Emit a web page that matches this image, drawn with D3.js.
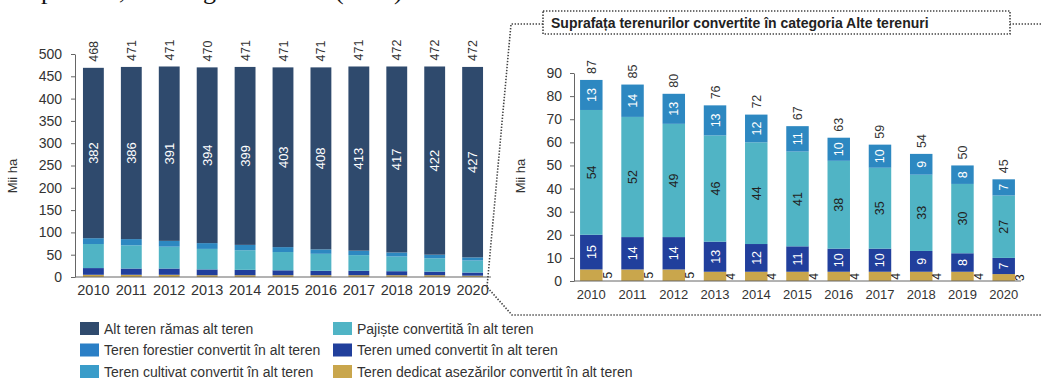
<!DOCTYPE html>
<html><head><meta charset="utf-8">
<script src="https://cdn.jsdelivr.net/npm/d3@7"></script>
<style>
body{margin:0;background:#fff;}
svg{display:block;font-family:"Liberation Sans",Arial,sans-serif;}
</style>
</head><body>
<svg id="c" width="1041" height="378"></svg>
<script>
// ---------- DATA ----------
const years = ["2010","2011","2012","2013","2014","2015","2016","2017","2018","2019","2020"];
const altTeren   = [382,386,391,394,399,403,408,413,417,422,427];
const totalLeft  = [468,471,471,470,471,471,471,471,472,472,472];
const forestier  = [13,14,13,13,12,11,10,10,9,8,7];
const pajiste    = [54,52,49,46,44,41,38,35,33,30,27];
const umed       = [15,14,14,13,12,11,10,10,9,8,7];
const asezari    = [5,5,5,4,4,4,4,4,4,4,3];
const totalRight = [87,85,80,76,72,67,63,59,54,50,45];
const leftTicks  = [0,50,100,150,200,250,300,350,400,450,500];
const rightTicks = [0,10,20,30,40,50,60,70,80,90];
const legendNames = [
  "Alt teren rămas alt teren",
  "Teren forestier convertit în alt teren",
  "Teren cultivat convertit în alt teren",
  "Pajiște convertită în alt teren",
  "Teren umed convertit în alt teren",
  "Teren dedicat așezărilor convertit în alt teren"
];
const leftTitle = "Mii ha";
const rightTitle = "Suprafața terenurilor convertite în categoria Alte terenuri";

// ---------- STYLE ----------
const COL = {
  alt:"#2f4a6d", forest:"#2d88c1", cult:"#3a9cc9", paj:"#50b4c5", umed:"#213f9c", asez:"#c9a64c"
};
const legendColors = [COL.alt, "#2a7fc6", COL.cult, COL.paj, COL.umed, COL.asez];

const svg = d3.select("#c");

// clipped serif caption remnants at very top (cut off in the reference too)
[["p",41],[",",119],["g",203],["(",335],[")",394]].forEach(([t,x])=>{
  svg.append("text").attr("x",x).attr("y",-1).attr("font-family","'Liberation Serif',serif")
    .attr("font-size",26).attr("fill","#111").text(t);
});

const rows = years.map((y,i)=>({year:y, asez:asezari[i], umed:umed[i], paj:pajiste[i], forest:forestier[i], alt:altTeren[i]}));
const keysLeft = ["asez","umed","paj","forest","alt"];
const keysRight = ["asez","umed","paj","forest"];

// ---------- LEFT CHART ----------
const xL = d3.scaleBand().domain(years).range([75,491]).paddingInner(0.45).paddingOuter(0.21);
const yL = d3.scaleLinear().domain([0,500]).range([277,54]);
const stL = d3.stack().keys(keysLeft)(rows);
const gL = svg.append("g");
stL.forEach(layer=>{
  gL.append("g").attr("fill",COL[layer.key]).selectAll("rect").data(layer).join("rect")
    .attr("x",d=>xL(d.data.year)).attr("width",xL.bandwidth())
    .attr("y",d=>yL(d[1])).attr("height",d=>yL(d[0])-yL(d[1]));
});
const altLayer = stL[4];
gL.selectAll("text.in").data(altLayer).join("text").attr("class","in")
  .attr("transform",d=>`translate(${xL(d.data.year)+xL.bandwidth()/2+4.5},${(yL(d[0])+yL(d[1]))/2}) rotate(-90)`)
  .attr("text-anchor","middle").attr("fill","#fff").attr("font-size",13).text((d,i)=>altTeren[i]);
gL.selectAll("text.tot").data(years).join("text").attr("class","tot")
  .attr("transform",(d,i)=>`translate(${xL(d)+xL.bandwidth()/2+4.5},${yL(altLayer[i][1])-6}) rotate(-90)`)
  .attr("text-anchor","start").attr("fill","#333").attr("font-size",12.5).text((d,i)=>totalLeft[i]);

const axL = svg.append("g").attr("transform","translate(75,0)")
  .call(d3.axisLeft(yL).tickValues(leftTicks).tickSize(4).tickSizeOuter(0).tickPadding(9));
const axLB = svg.append("g").attr("transform","translate(0,277)")
  .call(d3.axisBottom(xL).tickSize(0).tickPadding(8));
axLB.select(".domain").attr("d","M75,0H491");
[axL,axLB].forEach(a=>{a.selectAll("path,line").attr("stroke","#666");a.selectAll("text").attr("fill","#333").attr("font-family","'Liberation Sans',Arial,sans-serif");});
axL.selectAll("text").attr("font-size",14);
axLB.selectAll("text").attr("font-size",14.5);
svg.append("text").attr("transform","translate(17,176) rotate(-90)").attr("text-anchor","middle")
  .attr("font-size",13).attr("fill","#333").text(leftTitle);

// ---------- RIGHT CHART ----------
const xR = d3.scaleBand().domain(years).range([574,1021]).paddingInner(0.455).paddingOuter(0.147);
const yR = d3.scaleLinear().domain([0,90]).range([281,73]);
const stR = d3.stack().keys(keysRight)(rows);
const gR = svg.append("g");
stR.forEach(layer=>{
  gR.append("g").attr("fill",COL[layer.key]).selectAll("rect").data(layer).join("rect")
    .attr("x",d=>xR(d.data.year)).attr("width",xR.bandwidth())
    .attr("y",d=>yR(d[1])).attr("height",d=>yR(d[0])-yR(d[1]));
});
const labelCfg = {umed:["#fff",umed], paj:["#222",pajiste], forest:["#fff",forestier]};
stR.forEach(layer=>{
  if(!labelCfg[layer.key]) return;
  const [fill,vals] = labelCfg[layer.key];
  gR.append("g").selectAll("text").data(layer).join("text")
    .attr("transform",d=>`translate(${xR(d.data.year)+xR.bandwidth()/2+4.5},${(yR(d[0])+yR(d[1]))/2}) rotate(-90)`)
    .attr("text-anchor","middle").attr("fill",fill).attr("font-size",12.5).text((d,i)=>vals[i]);
});
gR.append("g").selectAll("text").data(stR[0]).join("text")
  .attr("transform",d=>`translate(${xR(d.data.year)+xR.bandwidth()+9},${(yR(d[0])+yR(d[1]))/2}) rotate(-90)`)
  .attr("text-anchor","middle").attr("fill","#222").attr("font-size",12).text((d,i)=>asezari[i]);
const topR = stR[3];
gR.append("g").selectAll("text").data(topR).join("text")
  .attr("transform",(d,i)=>`translate(${xR(d.data.year)+xR.bandwidth()/2+4.5},${yR(d[1])-6}) rotate(-90)`)
  .attr("text-anchor","start").attr("fill","#333").attr("font-size",12.5).text((d,i)=>totalRight[i]);

const axR = svg.append("g").attr("transform","translate(574,0)")
  .call(d3.axisLeft(yR).tickValues(rightTicks).tickSize(4).tickSizeOuter(0).tickPadding(8));
const axRB = svg.append("g").attr("transform","translate(0,281)")
  .call(d3.axisBottom(xR).tickSize(0).tickPadding(9));
axRB.select(".domain").attr("d","M574,0H1021");
[axR,axRB].forEach(a=>{a.selectAll("path,line").attr("stroke","#666");a.selectAll("text").attr("fill","#333").attr("font-family","'Liberation Sans',Arial,sans-serif");});
axR.selectAll("text").attr("font-size",14);
axRB.selectAll("text").attr("font-size",13);
svg.append("text").attr("transform","translate(525,176) rotate(-90)").attr("text-anchor","middle")
  .attr("font-size",13).attr("fill","#333").text(leftTitle);

// ---------- CALLOUT FRAME ----------
const dot = {stroke:"#444","stroke-width":1.6,"stroke-dasharray":"1.4,1.6",fill:"none"};
function styl(s){Object.entries(dot).forEach(([k,v])=>s.attr(k,v));return s;}
styl(svg.append("path").attr("d","M1041,24H1010 M543,24H511 L487,287 L512,315 H1041"));
styl(svg.append("rect").attr("x",543).attr("y",11).attr("width",467).attr("height",23));
svg.append("text").attr("x",551).attr("y",27.5).attr("font-weight","bold").attr("font-size",14)
  .attr("fill","#222").text(rightTitle);

// ---------- LEGEND ----------
const lg = svg.append("g");
legendNames.forEach((n,i)=>{
  const col = Math.floor(i/3), row = i%3;
  const x = col===0 ? 80 : 333, y = 322 + row*21.5;
  lg.append("rect").attr("x",x).attr("y",y).attr("width",19).attr("height",13).attr("fill",legendColors[i]);
  lg.append("text").attr("x",x+24).attr("y",y+11.5).attr("font-size",14).attr("fill","#333").text(n);
});
</script>
</body></html>
